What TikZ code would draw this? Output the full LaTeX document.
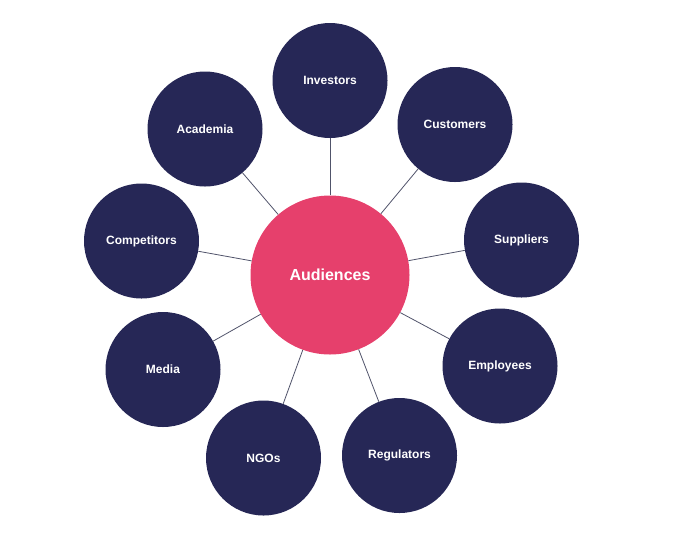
\documentclass[tikz,border=0pt]{standalone}
\usepackage{fontspec}
\setmainfont{Liberation Sans}
\usetikzlibrary{arrows.meta}
\definecolor{navy}{HTML}{262756}
\definecolor{rose}{HTML}{E6406C}
\definecolor{linkgray}{HTML}{50536A}
\tikzset{
  group/.style={circle,fill=navy,minimum size=115pt,inner sep=0pt,text=white,font=\fontsize{12}{14}\selectfont\bfseries},
  hub/.style={circle,fill=rose,minimum size=159pt,inner sep=0pt,text=white,font=\fontsize{16}{19}\selectfont\bfseries},
  link/.style={line width=0.8pt,draw=linkgray}
}
\begin{document}
\begin{tikzpicture}[x=1pt,y=-1pt]
\useasboundingbox (0,0) rectangle (690,550);
\node[hub] (aud) at (330,275) {Audiences};
\node[group] (inv) at (330,80.5) {Investors};
\node[group] (cus) at (455,124.5) {Customers};
\node[group] (sup) at (521.5,240) {Suppliers};
\node[group] (emp) at (500,366) {Employees};
\node[group] (reg) at (399.5,455.5) {Regulators};
\node[group] (ngo) at (263.5,458) {NGOs};
\node[group] (med) at (163,369.5) {Media};
\node[group] (com) at (141.5,241) {Competitors};
\node[group] (aca) at (205,129) {Academia};
\foreach \n in {inv,cus,sup,emp,reg,ngo,med,com,aca}
  \draw[link] (aud) -- (\n);
\end{tikzpicture}
\end{document}
